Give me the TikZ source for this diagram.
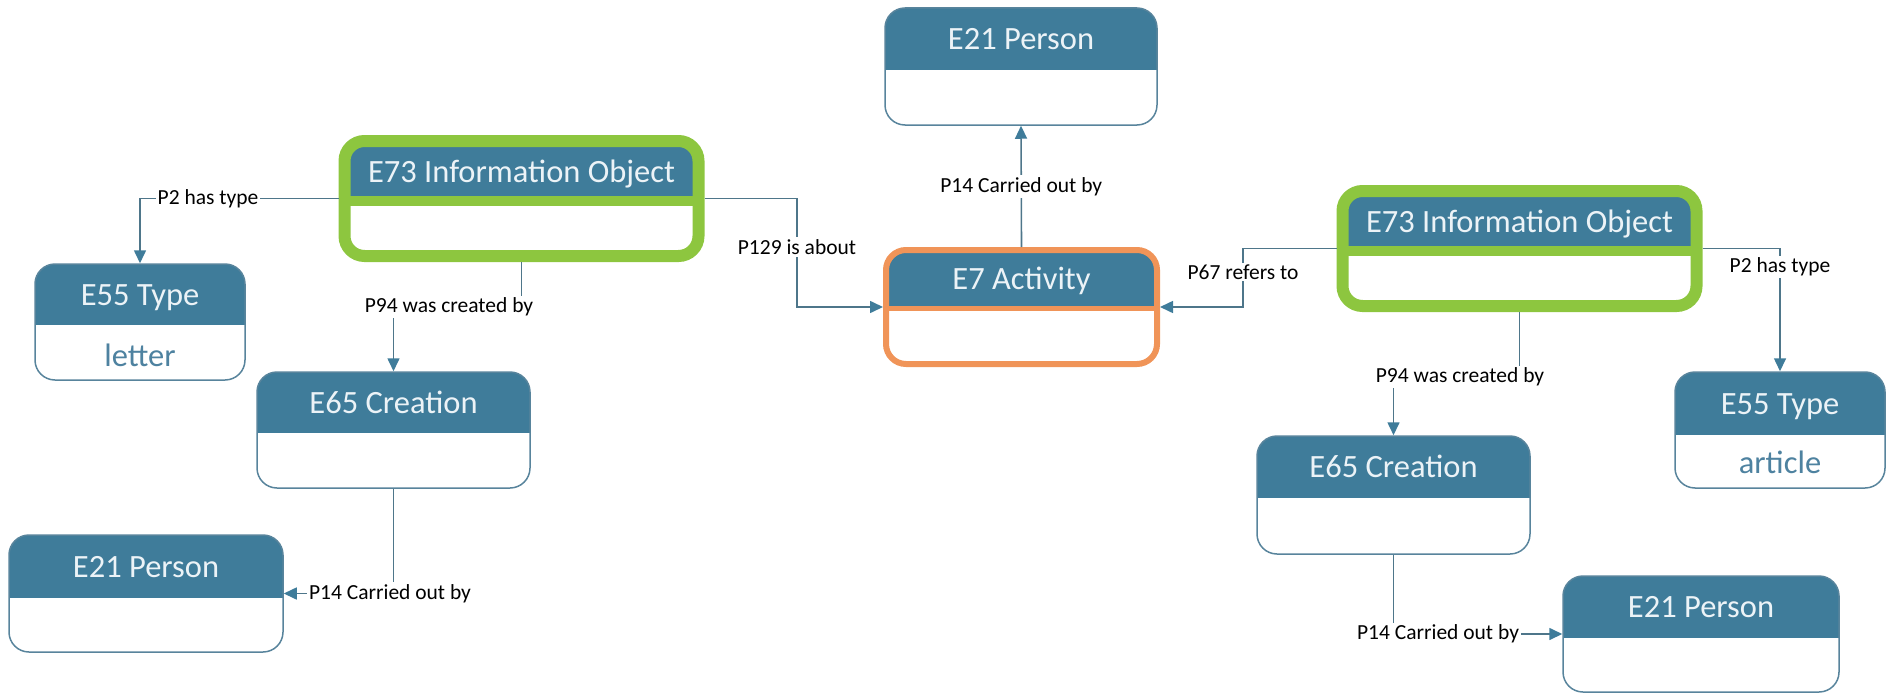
\documentclass[tikz,border=0pt]{standalone}
\usepackage{fontspec}
\setmainfont{Carlito}
\usetikzlibrary{arrows.meta}

\definecolor{hdrblue}{RGB}{63,124,154}
\definecolor{boxline}{RGB}{88,132,156}
\definecolor{igreen}{RGB}{141,198,63}
\definecolor{iorange}{RGB}{240,148,88}
\definecolor{linecol}{RGB}{78,118,138}
\definecolor{hdrtext}{RGB}{236,243,247}
\definecolor{bodytext}{RGB}{78,130,160}

\newcommand\entfont{\fontsize{32.5}{39}\selectfont}
\newcommand\relfont{\fontsize{21.5}{26}\selectfont}

\tikzset{
  % plain class box: blue header of height #1, white body
  entity/.style={rectangle, rounded corners=20pt, draw=boxline, line width=1.5pt,
    fill=white, inner sep=0pt,
    path picture={\fill[hdrblue, sharp corners] (path picture bounding box.north west)
      rectangle ([yshift=-#1]path picture bounding box.north east);}},
  % class box with a coloured frame and divider
  framed/.style n args={4}{rectangle, rounded corners=20pt, draw=#2, line width=#3,
    fill=white, inner sep=0pt,
    path picture={\fill[hdrblue, sharp corners] (path picture bounding box.north west)
      rectangle ([yshift=-#1]path picture bounding box.north east);
      \draw[#2, line width=#4, sharp corners] ([yshift=-#1]path picture bounding box.north west)
      -- ([yshift=-#1]path picture bounding box.north east);}},
  infobox/.style={framed={60pt}{igreen}{12pt}{10pt}, minimum width=354pt, minimum height=115pt},
  actbox/.style={framed={58pt}{iorange}{6pt}{5pt}, minimum width=271pt, minimum height=114pt},
  title/.style={anchor=base, font=\entfont, text=hdrtext, inner sep=0pt},
  value/.style={anchor=base, font=\entfont, text=bodytext, inner sep=0pt},
  rel/.style={fill=white, inner sep=2pt, text=black, font=\relfont},
  conn/.style={draw=linecol, line width=1.6pt,
    -{Triangle[length=13pt, width=12pt, color=hdrblue]}},
}

\begin{document}
\begin{tikzpicture}[x=1pt, y=-1pt]
\useasboundingbox (0,0) rectangle (1887,693);

% ---- classes ----
\node[entity=62pt, minimum width=272pt, minimum height=117pt] (pertop) at (1021,66.5) {};
\node[title] (pertop-t) at (1021,49.5) {E21 Person};

\node[infobox] (iol) at (521.5,198.5) {};
\node[title] (iol-t) at (521.5,182.5) {E73 Information Object};

\node[entity=61pt, minimum width=210pt, minimum height=116pt] (e55l) at (140,322) {};
\node[title] (e55l-t) at (140,305) {E55 Type};
\node[value] (e55l-v) at (140,366) {letter};

\node[entity=61pt, minimum width=273pt, minimum height=116pt] (e65l) at (393.5,430) {};
\node[title] (e65l-t) at (393.5,413) {E65 Creation};

\node[entity=63pt, minimum width=274pt, minimum height=117pt] (perl) at (146,593.5) {};
\node[title] (perl-t) at (146,577) {E21 Person};

\node[actbox] (e7) at (1021.5,307) {};
\node[title] (e7-t) at (1021.5,289.5) {E7 Activity};

\node[infobox] (ior) at (1519.5,248.5) {};
\node[title] (ior-t) at (1519.5,232) {E73 Information Object};

\node[entity=63pt, minimum width=210pt, minimum height=116pt] (e55r) at (1780,430) {};
\node[title] (e55r-t) at (1780,414) {E55 Type};
\node[value] (e55r-v) at (1780,473) {article};

\node[entity=62pt, minimum width=273pt, minimum height=118pt] (e65r) at (1393.5,495) {};
\node[title] (e65r-t) at (1393.5,477.5) {E65 Creation};

\node[entity=62pt, minimum width=276pt, minimum height=116pt] (perr) at (1701,634) {};
\node[title] (perr-t) at (1701,617.5) {E21 Person};

% ---- bend points of the relation lines ----
\coordinate (c2l)  at (208,198.5);
\coordinate (c94l) at (449,307);
\coordinate (c14l) at (390,593.5);
\coordinate (c129) at (797,247);
\coordinate (c67)  at (1243,272);
\coordinate (c2r)  at (1780,267);
\coordinate (c94r) at (1460,377);
\coordinate (c14r) at (1438,634);

% ---- relations ----
\draw[conn] (iol.west) -- (c2l) node[rel] {P2 has type} -| (e55l.north);
\draw[conn] (iol.south) |- (c94l) node[rel] {P94 was created by} -| (e65l.north);
\draw[conn] (e65l.south) |- (c14l) node[rel] {P14 Carried out by} -- (perl.east);
\draw[conn] (iol.east) -| (c129) node[rel] {P129 is about} |- (e7.west);
\draw[conn] (e7.north) -- node[rel] {P14 Carried out by} (pertop.south);
\draw[conn] (ior.west) -| (c67) node[rel] {P67 refers to} |- (e7.east);
\draw[conn] (ior.east) -| (c2r) node[rel] {P2 has type} -- (e55r.north);
\draw[conn] (ior.south) |- (c94r) node[rel] {P94 was created by} -| (e65r.north);
\draw[conn] (e65r.south) |- (c14r) node[rel] {P14 Carried out by} -- (perr.west);
\end{tikzpicture}
\end{document}
